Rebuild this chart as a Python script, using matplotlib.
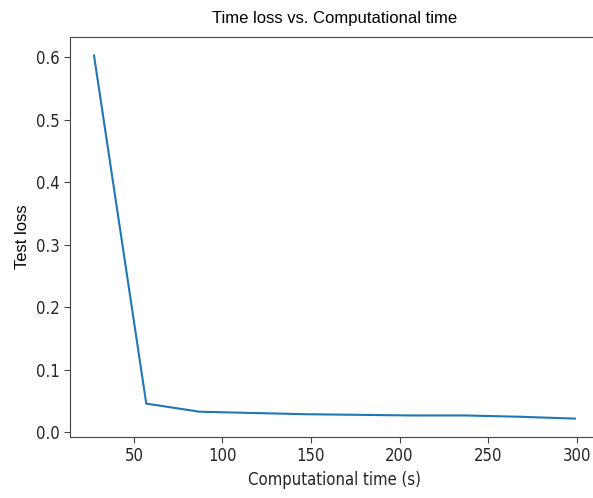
import matplotlib.pyplot as plt

comp_time = [27.5, 57, 87, 117, 147, 177, 207, 237, 267, 299]
test_loss = [0.603, 0.046, 0.033, 0.031, 0.029, 0.028, 0.027, 0.027, 0.025, 0.022]

plt.rcParams['font.family'] = ['DejaVu Sans']
plt.rcParams['font.stretch'] = 'condensed'

fig, ax = plt.subplots(figsize=(5.93, 4.98), dpi=100)
ax.plot(comp_time, test_loss, color="#1f77b4", lw=1.5)

ax.set_title("Time loss vs. Computational time", fontsize=12, pad=10,
             family=['Liberation Sans'], stretch='condensed')
ax.set_xlabel("Computational time (s)", fontsize=12, color="#262626")
ax.set_ylabel("Test loss", fontsize=12, family=['Liberation Sans'])
ax.tick_params(labelsize=12, labelcolor="#262626", color="#444444", length=4)
for s in ax.spines.values():
    s.set_color("#444444")

# the original screenshot is cut off on the right, so the axes run past the edge
plt.subplots_adjust(left=0.118, right=1.01, top=0.925, bottom=0.123)
plt.savefig("out.png")
